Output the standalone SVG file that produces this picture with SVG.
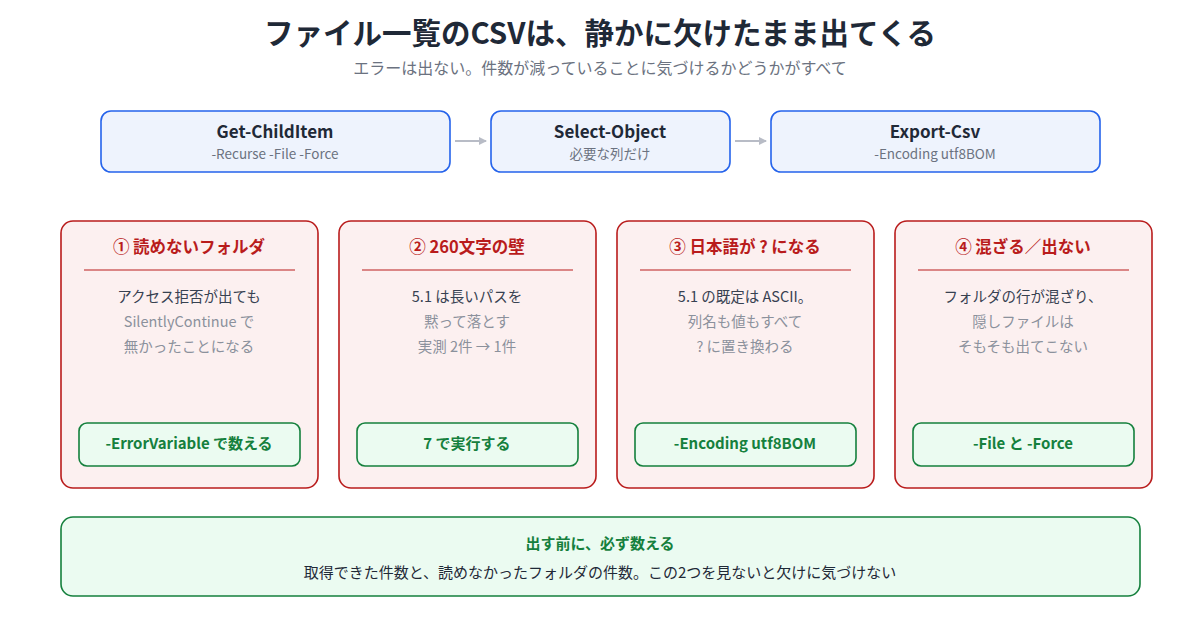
<svg xmlns="http://www.w3.org/2000/svg" width="1200" height="630" viewBox="0 0 1200 630">
<style>
text{font-family:"Noto Sans CJK JP","Noto Sans",sans-serif;text-anchor:middle}
.step{fill:#eef3fd;stroke:#2563eb;stroke-width:1.6}
.st{font-size:17px;font-weight:bold;fill:#1f2937}
.ss{font-size:13.5px;fill:#6b7280}
.card{fill:#fcf0f0;stroke:#b91c1c;stroke-width:1.6}
.ct{font-size:16.5px;font-weight:bold;fill:#b91c1c}
.b1{font-size:14.5px;fill:#374151}
.b2{font-size:14.5px;fill:#8b919c}
.fix{fill:#ebfbf1;stroke:#15803d;stroke-width:1.6}
.ft{font-size:15px;font-weight:bold;fill:#15803d}
</style>
<defs><marker id="ah" markerWidth="8" markerHeight="8" refX="7" refY="4" orient="auto" markerUnits="userSpaceOnUse"><path d="M0,0 L8,4 L0,8 z" fill="#b8bcc6"/></marker></defs>
<rect width="1200" height="630" fill="#fff"/>
<text x="600" y="44" font-size="29.5" font-weight="bold" fill="#1f2937">ファイル一覧のCSVは、静かに欠けたまま出てくる</text>
<text x="600" y="74" font-size="16" fill="#6b7280">エラーは出ない。件数が減っていることに気づけるかどうかがすべて</text>
<g id="connectors" stroke="#b8bcc6" stroke-width="2" marker-end="url(#ah)">
<line x1="455" y1="141" x2="486" y2="141"/>
<line x1="735" y1="141" x2="766" y2="141"/>
</g>
<g id="step1"><rect class="step" x="101" y="111" width="349" height="61" rx="10"/><text class="st" x="275" y="138">Get-ChildItem</text><text class="ss" x="275" y="159">-Recurse -File -Force</text></g>
<g id="step2"><rect class="step" x="491" y="111" width="239" height="61" rx="10"/><text class="st" x="610" y="138">Select-Object</text><text class="ss" x="610" y="159">必要な列だけ</text></g>
<g id="step3"><rect class="step" x="771" y="111" width="329" height="61" rx="10"/><text class="st" x="935" y="138">Export-Csv</text><text class="ss" x="935" y="159">-Encoding utf8BOM</text></g>
<g id="card1"><rect class="card" x="61" y="221" width="257" height="267" rx="12"/><text class="ct" x="189" y="253">① 読めないフォルダ</text><line x1="84" y1="270" x2="295" y2="270" stroke="#b91c1c"/><text class="b1" x="189" y="302">アクセス拒否が出ても</text><text class="b2" x="189" y="327">SilentlyContinue で</text><text class="b2" x="189" y="352">無かったことになる</text><rect class="fix" x="79" y="423" width="221" height="43" rx="8"/><text class="ft" x="189" y="449">-ErrorVariable で数える</text></g>
<g id="card2"><rect class="card" x="339" y="221" width="257" height="267" rx="12"/><text class="ct" x="467" y="253">② 260文字の壁</text><line x1="362" y1="270" x2="573" y2="270" stroke="#b91c1c"/><text class="b1" x="467" y="302">5.1 は長いパスを</text><text class="b2" x="467" y="327">黙って落とす</text><text class="b2" x="467" y="352">実測 2件 → 1件</text><rect class="fix" x="357" y="423" width="221" height="43" rx="8"/><text class="ft" x="467" y="449">7 で実行する</text></g>
<g id="card3"><rect class="card" x="617" y="221" width="257" height="267" rx="12"/><text class="ct" x="745" y="253">③ 日本語が ? になる</text><line x1="640" y1="270" x2="851" y2="270" stroke="#b91c1c"/><text class="b1" x="745" y="302">5.1 の既定は ASCII。</text><text class="b2" x="745" y="327">列名も値もすべて</text><text class="b2" x="745" y="352">? に置き換わる</text><rect class="fix" x="635" y="423" width="221" height="43" rx="8"/><text class="ft" x="745" y="449">-Encoding utf8BOM</text></g>
<g id="card4"><rect class="card" x="895" y="221" width="257" height="267" rx="12"/><text class="ct" x="1023" y="253">④ 混ざる／出ない</text><line x1="918" y1="270" x2="1129" y2="270" stroke="#b91c1c"/><text class="b1" x="1023" y="302">フォルダの行が混ざり、</text><text class="b2" x="1023" y="327">隠しファイルは</text><text class="b2" x="1023" y="352">そもそも出てこない</text><rect class="fix" x="913" y="423" width="221" height="43" rx="8"/><text class="ft" x="1023" y="449">-File と -Force</text></g>
<g id="summary"><rect class="fix" x="61" y="517" width="1079" height="79" rx="12"/><text class="ft" x="600" y="549" font-size="16.5">出す前に、必ず数える</text><text x="600" y="578" font-size="15" fill="#1f2937">取得できた件数と、読めなかったフォルダの件数。この2つを見ないと欠けに気づけない</text></g>
</svg>
